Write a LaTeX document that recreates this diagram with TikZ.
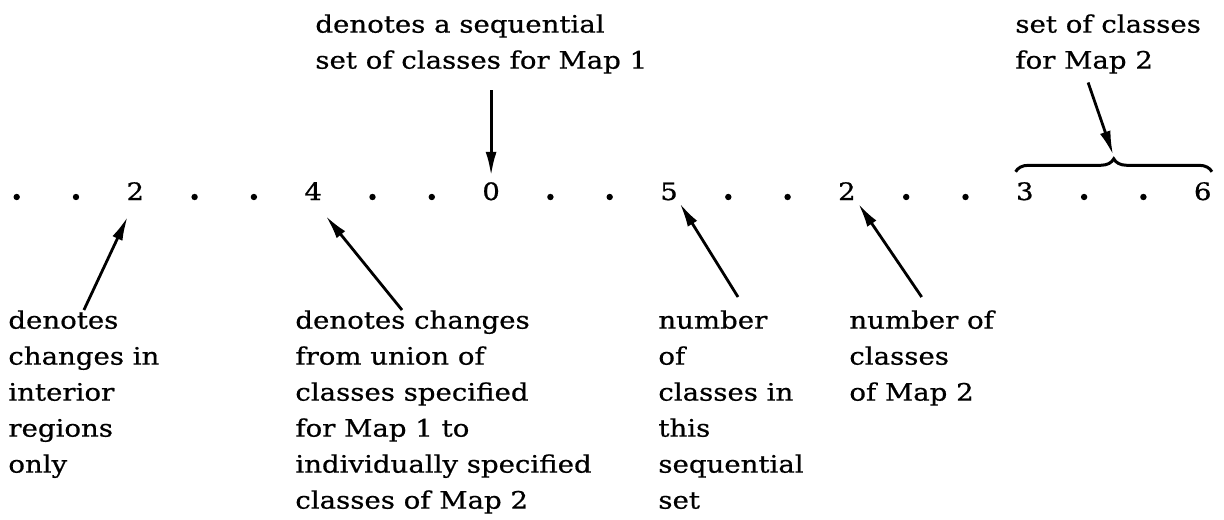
\documentclass[tikz,border=0pt]{standalone}
\usepackage{fontspec}
\setmainfont[FakeStretch=1.15,FakeBold=0.7]{DejaVu Serif}
\usepackage{tikz}
\usetikzlibrary{arrows.meta,positioning,calc,decorations.pathreplacing}

\tikzset{
  lbl/.style={anchor=north west,inner sep=0pt,align=left,font=\fontsize{12}{18}\selectfont},
  dig/.style={anchor=base,inner sep=0pt,font=\fontsize{12}{18}\selectfont},
  ptr/.style={-{Latex[length=12pt,width=5.5pt]},line width=1.4pt},
}

\begin{document}
\begin{tikzpicture}[x=0.5pt,y=-0.5pt]
  \useasboundingbox (0,0) rectangle (1224,519);
  % row of dots and numbers
  \def\xo{16.7}
  \def\dx{59.3}
  \def\yb{200}
  \foreach \i in {0,1,3,4,6,7,9,10,12,13,15,16,18,19}{
    \pgfmathsetmacro{\xd}{\xo+\i*\dx}
    \fill (\xd,197) circle (1.6pt);
  }
  \node[dig] (n2a) at ({\xo+2*\dx},\yb) {2};
  \node[dig] (n4) at ({\xo+5*\dx},\yb) {4};
  \node[dig] (n0) at ({\xo+8*\dx},\yb) {0};
  \node[dig] (n5) at ({\xo+11*\dx},\yb) {5};
  \node[dig] (n2b) at ({\xo+14*\dx},\yb) {2};
  \node[dig] (n3) at ({\xo+17*\dx},\yb) {3};
  \node[dig] (n6) at ({\xo+20*\dx},\yb) {6};
  % brace over 3 . . 6
  \draw[line width=1.5pt,decorate,decoration={brace,amplitude=6.5pt}]
    ([yshift=5pt]n3.north west) -- ([yshift=5pt]n6.north east);
  \coordinate (brtip) at ($(n3.north west)!.5!(n6.north east)+(0,-25)$);
  % labels above
  \node[lbl] (t1) at (315,14) {denotes a sequential\\set of classes for Map 1};
  \node[lbl] (t2) at (1015,14) {set of classes\\for Map 2};
  % labels below
  \node[lbl] (b1) at (8,310) {denotes\\changes in\\interior\\regions\\only};
  \node[lbl] (b2) at (295,310) {denotes changes\\from union of\\classes specified\\for Map 1 to\\individually specified\\classes of Map 2};
  \node[lbl] (b3) at (658,310) {number\\of\\classes in\\this\\sequential\\set};
  \node[lbl] (b4) at (849,310) {number of\\classes\\of Map 2};
  % pointers
  \draw[ptr,shorten <=8pt,shorten >=3pt] (t1.south -| n0) -- (n0.north);
  \draw[ptr,shorten <=4.5pt,shorten >=1pt] ([xshift=-11.5pt]t2.south) -- (brtip);
  \draw[ptr,shorten >=9pt] (b1.north) -- (n2a.south);
  \draw[ptr,shorten >=10pt] ([xshift=53.5pt]b2.north west) -- (n4.south);
  \draw[ptr,shorten >=1.5pt] ([xshift=40pt,yshift=6.5pt]b3.north west) -- (n5.south east);
  \draw[ptr,shorten >=2pt] ([yshift=6.5pt]b4.north) -- (n2b.south east);
\end{tikzpicture}
\end{document}
